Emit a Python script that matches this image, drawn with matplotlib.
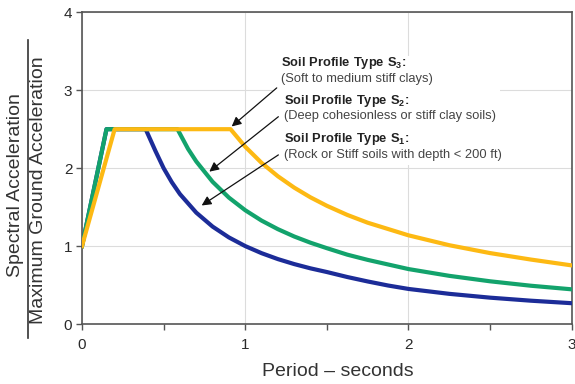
import matplotlib
matplotlib.use("Agg")
import matplotlib.pyplot as plt
from matplotlib.patches import Rectangle

plt.rcParams["font.family"] = ["Liberation Sans", "DejaVu Sans"]
plt.rcParams["mathtext.fontset"] = "custom"
plt.rcParams["mathtext.rm"] = "Liberation Sans"
plt.rcParams["mathtext.bf"] = "Liberation Sans:bold"

# Normalized response spectra (Sa / PGA) versus period, per soil profile type
t_s1 = [0.0, 0.15, 0.39, 0.45, 0.50, 0.55, 0.60, 0.70, 0.80, 0.90, 1.00, 1.10,
        1.20, 1.30, 1.40, 1.50, 1.625, 1.75, 1.875, 2.00, 2.25, 2.50, 2.75, 3.00]
sa_s1 = [1.0, 2.5, 2.5, 2.22, 2.00, 1.82, 1.667, 1.429, 1.25, 1.111, 1.00, 0.909,
         0.833, 0.769, 0.714, 0.667, 0.603, 0.546, 0.494, 0.45, 0.387, 0.338,
         0.299, 0.267]

t_s2 = [0.0, 0.15, 0.585, 0.65, 0.70, 0.80, 0.90, 1.00, 1.10, 1.20, 1.30, 1.40,
        1.50, 1.625, 1.75, 2.00, 2.25, 2.50, 2.75, 3.00]
sa_s2 = [1.0, 2.5, 2.5, 2.246, 2.086, 1.825, 1.622, 1.46, 1.327, 1.217, 1.123,
         1.043, 0.973, 0.89, 0.823, 0.705, 0.618, 0.548, 0.491, 0.445]

t_s3 = [0.0, 0.20, 0.91, 1.00, 1.10, 1.20, 1.30, 1.40, 1.50, 1.625, 1.75, 2.00,
        2.25, 2.50, 2.75, 3.00]
sa_s3 = [1.0, 2.5, 2.5, 2.275, 2.068, 1.896, 1.75, 1.625, 1.517, 1.40, 1.30,
         1.138, 1.011, 0.91, 0.827, 0.752]

colors = {"S1": "#1c2c98", "S2": "#13a36c", "S3": "#fdb913"}

# Callout text and the point each arrow points to (period, Sa/PGA)
labels = [
    ("3", "(Soft to medium stiff clays)", (1.218, 3.35), (1.218, 3.145),
     (1.193, 3.03), (0.917, 2.535)),
    ("2", "(Deep cohesionless or stiff clay soils)", (1.24, 2.863), (1.24, 2.67),
     (1.203, 2.66), (0.78, 1.955)),
    ("1", "(Rock or Stiff soils with depth < 200 ft)", (1.24, 2.371), (1.24, 2.169),
     (1.203, 2.17), (0.733, 1.521)),
]

fig = plt.figure(figsize=(5.75, 3.84), dpi=100)
ax = fig.add_axes([82 / 575, 1 - 324 / 384, (571.7 - 82) / 575, (324 - 12.3) / 384])

ax.plot(t_s1, sa_s1, color=colors["S1"], lw=3.0, zorder=3, solid_joinstyle="round")
ax.plot(t_s2, sa_s2, color=colors["S2"], lw=3.0, zorder=4, solid_joinstyle="round")
ax.plot(t_s3, sa_s3, color=colors["S3"], lw=3.0, zorder=5, solid_joinstyle="round")

ax.set_xlim(0, 3)
ax.set_ylim(0, 4)
ax.set_xticks([0, 1, 2, 3])
ax.set_xticks([0.5, 1.5, 2.5], minor=True)
ax.set_yticks([0, 1, 2, 3, 4])
ax.set_axisbelow(True)
ax.grid(True, which="major", color="#dcdcdc", lw=0.8)

for sp in ax.spines.values():
    sp.set_color("#555555")
    sp.set_linewidth(1.2)
ax.tick_params(axis="both", which="both", direction="out", length=4, width=1.0,
               color="#555555", labelsize=11, labelcolor="#2a2a2a")
ax.tick_params(axis="x", which="major", pad=6)
ax.tick_params(axis="y", which="major", pad=3)

# White panel behind the callouts
ax.add_patch(Rectangle((1.17, 2.04), 1.39, 1.40, facecolor="white", edgecolor="none",
                       zorder=1))

for sub, desc, p1, p2, tail, tip in labels:
    ax.text(p1[0], p1[1], r"$\mathbf{Soil\ Profile\ Type\ S_%s}$:" % sub,
            fontsize=9.3, fontweight="bold", color="#222222", ha="left", va="center",
            zorder=7)
    ax.text(p2[0], p2[1], desc, fontsize=9.3, color="#444444", ha="left",
            va="center", zorder=7)
    ax.annotate("", xy=tip, xytext=tail,
                arrowprops=dict(arrowstyle="-|>", color="#111111", lw=0.9,
                                mutation_scale=14, shrinkA=0, shrinkB=0),
                zorder=6)

fig.text(338 / 575, 1 - 372 / 384, "Period – seconds", fontsize=14,
         color="#333333", ha="center", va="center")
fig.text(16 / 575, 1 - 185 / 384, "Spectral Acceleration", fontsize=14,
         color="#333333", rotation=90, ha="center", va="center")
fig.text(39 / 575, 1 - 190 / 384, "Maximum Ground Acceleration", fontsize=14,
         color="#333333", rotation=90, ha="center", va="center")
fig.add_artist(plt.Line2D([27.5 / 575, 27.5 / 575], [1 - 338 / 384, 1 - 40 / 384],
                          color="#333333", lw=1.2))

fig.savefig("out.png", dpi=100)
